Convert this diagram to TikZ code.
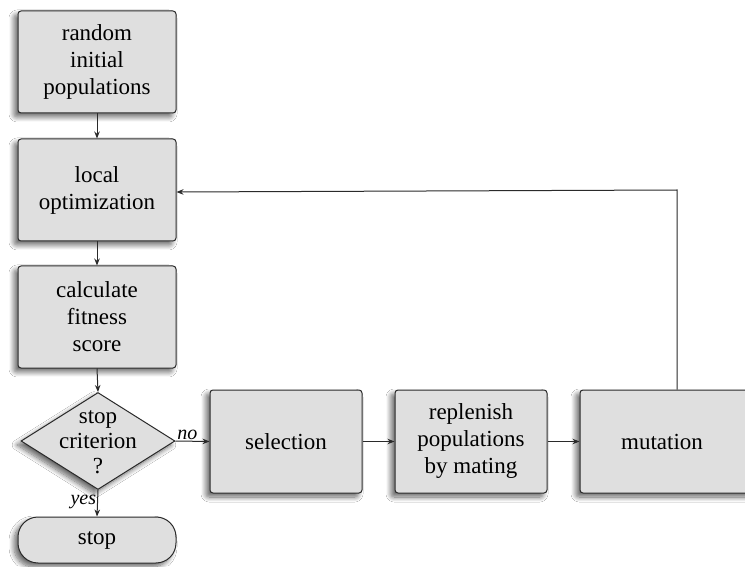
\documentclass[tikz,border=0pt]{standalone}
\usepackage{fontspec}
\setmainfont{Liberation Serif}
\usetikzlibrary{arrows.meta,shapes.geometric,shadows.blur}
\definecolor{boxfill}{HTML}{DFDFDF}
\definecolor{edge}{HTML}{2A2A2A}
\tikzset{
  softshadow/.style={blur shadow={shadow xshift=-4pt, shadow yshift=-4pt,
      shadow blur radius=5pt, shadow blur steps=10, shadow opacity=60}},
  stepbox/.style={draw=edge, line width=1pt, fill=boxfill, rounded corners=3pt,
      softshadow, minimum width=158pt, minimum height=102pt, align=center,
      font=\fontsize{23}{27}\selectfont, inner sep=0pt},
  wide/.style={minimum width=152pt, minimum height=103pt},
  decide/.style={draw=edge, line width=1pt, fill=boxfill, shape=diamond,
      softshadow, minimum width=154pt, minimum height=97pt, inner sep=0pt},
  endbox/.style={draw=edge, line width=1pt, fill=boxfill, rounded corners=20pt,
      softshadow, minimum width=158pt, minimum height=46pt,
      font=\fontsize{23}{27}\selectfont, inner sep=0pt},
  flow/.style={draw=edge, line width=1pt, -{Stealth[length=7pt,width=5.5pt]}},
  tag/.style={font=\fontsize{20}{22}\selectfont\itshape, inner sep=1pt},
}
\begin{document}
\begin{tikzpicture}[x=1pt,y=1pt]
  \useasboundingbox (0,0) rectangle (745,566);
  \fill[white] (0,0) rectangle (745,566);

  % main column
  \node[stepbox] (init) at (97,504) {random\\initial\\populations};
  \node[stepbox] (local) at (97,376) {local\\optimization};
  \node[stepbox] (fit) at (97,249) {calculate\\fitness\\score};
  \node[decide] (crit) at (98,125) {};
  \node[align=center, font=\fontsize{23}{25}\selectfont, inner sep=0pt]
       (critlabel) at (98,124) {stop\\criterion\\?};
  \node[endbox] (stop) at (97,26) {stop};

  % loop row
  \node[stepbox, wide] (sel) at (286,124.5) {selection};
  \node[stepbox, wide] (mate) at (471,124.5) {replenish\\populations\\by mating};
  \node[stepbox, minimum width=194pt, minimum height=103pt] (mut) at (677,124.5) {};
  \node[font=\fontsize{23}{27}\selectfont, inner sep=0pt] (mutlabel) at (662,124.5) {mutation};

  % connectors
  \draw[flow] (init) -- (local);
  \draw[flow] (local) -- (fit);
  \draw[flow] (fit.south) -- (crit.north);
  \draw[flow] (crit.east) -- node[tag, above, pos=0.35] {no} (sel.west);
  \draw[flow] (crit.south) -- node[tag, left, pos=0.45] {yes} (stop.north);
  \draw[flow] (sel) -- (mate);
  \draw[flow] (mate) -- (mut.west);
  \coordinate (turn) at (mut.north |- local.east);
  \draw[flow] (mut.north) -- (turn) -- ([yshift=-2pt]local.east);
\end{tikzpicture}
\end{document}
